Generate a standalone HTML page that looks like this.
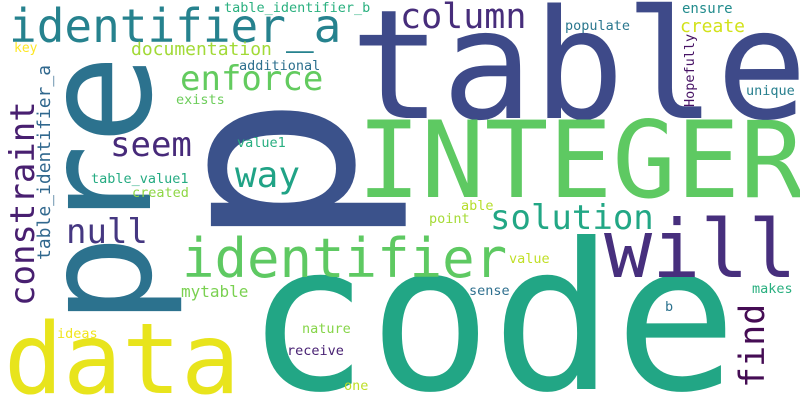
<!DOCTYPE html>
<html><head><meta charset="utf-8"><style>
html,body{margin:0;padding:0;background:#fff;width:800px;height:400px;overflow:hidden;}
svg{display:block;}
text{font-family:"DejaVu Sans Mono","Liberation Mono",monospace;}
</style></head><body>
<svg width="800" height="400" viewBox="0 0 800 400">
<rect width="800" height="400" fill="#fff"/>
<text x="350" y="118" font-size="152" fill="#3e4a89">table</text>
<text transform="translate(352,250) rotate(-90)" font-size="258" fill="#3b528b">p</text>
<text transform="translate(150,325) rotate(-90)" font-size="150" fill="#2c728e">pre</text>
<text x="357" y="197" font-size="106" fill="#5ec962">INTEGER</text>
<text x="246" y="389" font-size="204" fill="#22a685">code</text>
<text x="4" y="393" font-size="98" fill="#e8e41c">data</text>
<text x="182" y="277" font-size="54" fill="#5ec962">identifier</text>
<text x="604" y="277" font-size="80" fill="#472f7d">will</text>
<text x="9" y="42" font-size="46" fill="#26828e">identifier_a</text>
<text x="400" y="28" font-size="35" fill="#472d7b">column</text>
<text x="180" y="90" font-size="34" fill="#63cb5f">enforce</text>
<text x="110" y="156" font-size="34" fill="#472a7a">seem</text>
<text x="235" y="187" font-size="36" fill="#20a386">way</text>
<text x="66" y="243" font-size="34" fill="#453781">null</text>
<text x="490" y="229" font-size="34" fill="#22a785">solution</text>
<text transform="translate(34,306) rotate(-90)" font-size="34" fill="#481f70">constraint</text>
<text transform="translate(764,388) rotate(-90)" font-size="35" fill="#450c54">find</text>
<text transform="translate(50,260) rotate(-90)" font-size="18" fill="#31688e">table_identifier_a</text>
<text x="131" y="55" font-size="18" fill="#a2da37">documentation</text>
<text x="680" y="32" font-size="18" fill="#d2e21b">create</text>
<text x="181" y="297" font-size="16" fill="#7ad151">mytable</text>
<text x="224" y="12" font-size="13.5" fill="#2ab07f">table_identifier_b</text>
<text x="14" y="52" font-size="13" fill="#fde725">key</text>
<text x="239" y="70" font-size="13.5" fill="#2d708e">additional</text>
<text x="176" y="104" font-size="13.5" fill="#6ccd5a">exists</text>
<text x="237" y="147" font-size="13.5" fill="#28ae80">value1</text>
<text x="91" y="183" font-size="13.5" fill="#25ab82">table_value1</text>
<text x="132" y="197" font-size="13.5" fill="#8ed645">created</text>
<text x="565" y="30" font-size="13.5" fill="#2a778e">populate</text>
<text x="682" y="13" font-size="14" fill="#228c8d">ensure</text>
<text transform="translate(694,107) rotate(-90)" font-size="13.5" fill="#471365">Hopefully</text>
<text x="746" y="95" font-size="13.5" fill="#277f8e">unique</text>
<text x="461" y="210" font-size="13.5" fill="#b5de2b">able</text>
<text x="429" y="223" font-size="13.5" fill="#a5db36">point</text>
<text x="509" y="263" font-size="13.5" fill="#c0df25">value</text>
<text x="469" y="295" font-size="13.5" fill="#2e6f8e">sense</text>
<text x="752" y="293" font-size="13.5" fill="#29af7f">makes</text>
<text x="665" y="311" font-size="13.5" fill="#2c728e">b</text>
<text x="302" y="333" font-size="13.5" fill="#86d549">nature</text>
<text x="287" y="355" font-size="13.5" fill="#482173">receive</text>
<text x="344" y="390" font-size="13.5" fill="#bddf26">one</text>
<text x="57" y="338" font-size="13.5" fill="#f1e51d">ideas</text>
</svg>
</body></html>
